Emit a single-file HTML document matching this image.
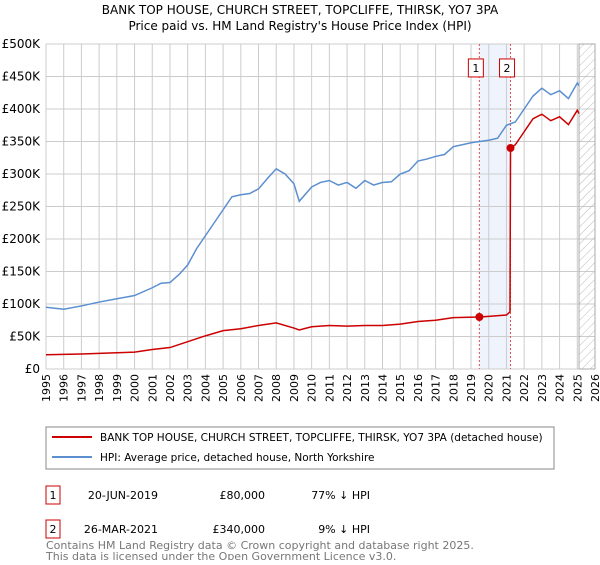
<!DOCTYPE html>
<html><head><meta charset="utf-8"><style>
body{margin:0;background:#fff;font-family:"Liberation Sans","DejaVu Sans",sans-serif;}
svg text{font-family:"DejaVu Sans","Liberation Sans",sans-serif;}
</style></head><body>
<svg id="c" width="600" height="560" xmlns="http://www.w3.org/2000/svg">
<defs><pattern id="h" width="6" height="6" patternUnits="userSpaceOnUse" patternTransform="rotate(45)"><line x1="0" y1="0" x2="0" y2="6" stroke="#bbb" stroke-width="1"/></pattern></defs>
<text x="300" y="14" text-anchor="middle" font-size="12">BANK TOP HOUSE, CHURCH STREET, TOPCLIFFE, THIRSK, YO7 3PA</text>
<text x="300" y="30" text-anchor="middle" font-size="12">Price paid vs. HM Land Registry's House Price Index (HPI)</text>
<g id="grid"></g><g id="marks"></g>
<rect x="46" y="427" width="508" height="42" fill="#fff" stroke="#888"/>
<line x1="52" y1="437" x2="92" y2="437" stroke="#cc0000" stroke-width="2"/>
<text x="100" y="441" font-size="10.5">BANK TOP HOUSE, CHURCH STREET, TOPCLIFFE, THIRSK, YO7 3PA (detached house)</text>
<line x1="52" y1="457" x2="92" y2="457" stroke="#5b8fd0" stroke-width="2"/>
<text x="100" y="461" font-size="10.5">HPI: Average price, detached house, North Yorkshire</text>
<g font-size="11">
<rect x="46" y="486" width="14" height="18" fill="none" stroke="#cc0000"/>
<text x="53" y="499" text-anchor="middle">1</text><text x="158" y="499" text-anchor="end">20-JUN-2019</text><text x="265" y="499" text-anchor="end">£80,000</text><text x="370" y="499" text-anchor="end">77% ↓ HPI</text>
<rect x="46" y="520" width="14" height="18" fill="none" stroke="#cc0000"/>
<text x="53" y="533" text-anchor="middle">2</text><text x="158" y="533" text-anchor="end">26-MAR-2021</text><text x="265" y="533" text-anchor="end">£340,000</text><text x="370" y="533" text-anchor="end">9% ↓ HPI</text>
</g>
<text x="46" y="549" font-size="11" fill="#777">Contains HM Land Registry data © Crown copyright and database right 2025.</text>
<text x="46" y="560" font-size="11" fill="#777">This data is licensed under the Open Government Licence v3.0.</text>
</svg>
<script>
const hpiYears=[1995,1996,1997,1998,1999,2000,2001,2001.5,2002,2002.5,2003,2003.5,2004,2004.5,2005,2005.5,2006,2006.5,2007,2007.5,2008,2008.5,2009,2009.3,2010,2010.5,2011,2011.5,2012,2012.5,2013,2013.5,2014,2014.5,2015,2015.5,2016,2016.5,2017,2017.5,2018,2018.5,2019,2019.5,2020,2020.5,2021,2021.5,2022,2022.5,2023,2023.5,2024,2024.5,2025,2025.1];
const hpiValues=[95,92,97,103,108,113,125,132,133,145,160,185,205,225,245,265,268,270,277,293,308,300,285,258,280,287,290,283,287,278,290,283,287,288,300,305,320,323,327,330,342,345,348,350,352,355,375,380,400,420,432,422,428,416,440,436];
const ppYears=[1995,1997,1999,2000,2001,2002,2003,2004,2005,2006,2007,2008,2009,2009.3,2010,2011,2012,2013,2014,2015,2016,2017,2018,2019.47,2020,2021,2021.2,2021.23,2021.5,2022,2022.5,2023,2023.5,2024,2024.5,2025,2025.1];
const ppValues=[22,23,25,26,30,33,42,51,59,62,67,71,63,60,65,67,66,67,67,69,73,75,79,80,81,83,88,340,345,365,385,392,382,388,376,398,393];
const saleYears=[2019.47,2021.23];
const saleValues=[80,340];
const saleLabels=["1","2"];
const yTicks=[0,50,100,150,200,250,300,350,400,450,500];
const yTickLabels=["£0","£50K","£100K","£150K","£200K","£250K","£300K","£350K","£400K","£450K","£500K"];
const xTicks=[];for(let y=1995;y<=2026;y++)xTicks.push(y);
const X=v=>46+(v-1995)*(595-46)/31, Y=v=>369-v*0.65;
const NS="http://www.w3.org/2000/svg";
function mk(p,t,a){const e=document.createElementNS(NS,t);for(const k in a)e.setAttribute(k,a[k]);p.appendChild(e);return e;}
const g=document.getElementById('grid'),m=document.getElementById('marks');
const shade=mk(g,'rect',{x:X(saleYears[0]),y:Y(500),width:X(saleYears[1])-X(saleYears[0]),height:Y(0)-Y(500),fill:'#eef3fc'});


xTicks.forEach(t=>{const l=mk(g,'line',{x1:X(t),x2:X(t),y1:Y(500),y2:Y(0),stroke:'#ccc'});


const tx=mk(g,'text',{x:0,y:0,'font-size':11,transform:`translate(${X(t)+4},${Y(0)+33}) rotate(-90)`});tx.textContent=t;

});
yTicks.forEach((t,i)=>{const l=mk(g,'line',{x1:X(1995),x2:X(2026),y1:Y(t),y2:Y(t),stroke:'#ccc'});


const tx=mk(g,'text',{x:40,y:Y(t)+4,'font-size':12,'text-anchor':'end'});tx.textContent=yTickLabels[i];

});
const hatch=mk(g,'rect',{x:X(2025.1),y:Y(500),width:X(2026)-X(2025.1),height:Y(0)-Y(500),fill:'url(#h)',stroke:'#aaa'});


saleYears.forEach((s,i)=>{const l=mk(g,'line',{x1:X(s),x2:X(s),y1:Y(500),y2:Y(0),stroke:'#e05050','stroke-dasharray':'2,2'});


const r=mk(m,'rect',{x:X(s)-11,y:Y(477),width:15,height:18,fill:'#fff',stroke:'#cc0000'});


const tx=mk(m,'text',{x:X(s)-3.5,y:Y(477)+13,'font-size':11,'text-anchor':'middle'});tx.textContent=saleLabels[i];

});
const hp=mk(m,'polyline',{points:hpiYears.map((y,i)=>X(y)+','+Y(hpiValues[i])).join(' '),fill:'none',stroke:'#5b8fd0','stroke-width':1.5});


const pp=mk(m,'polyline',{points:ppYears.map((y,i)=>X(y)+','+Y(ppValues[i])).join(' '),fill:'none',stroke:'#cc0000','stroke-width':1.5});


saleYears.forEach((s,i)=>{const c=mk(m,'circle',{cx:X(s),cy:Y(saleValues[i]),r:4,fill:'#cc0000'});

});
</script>
</body></html>
